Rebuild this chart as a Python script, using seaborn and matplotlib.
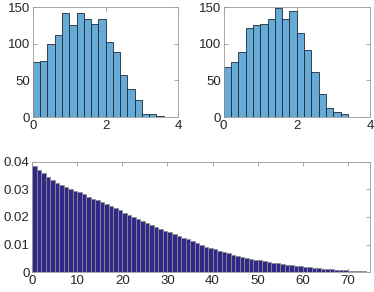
# plot.py
# Two histograms on top and a decaying bar series below, MATLAB-like look

import numpy as np
import pandas as pd
import seaborn as sns
import matplotlib
matplotlib.use("Agg")
import matplotlib.pyplot as plt

# Data
bin_width = 0.2
left_counts = [75, 76, 99, 112, 142, 126, 142, 134, 127, 134,
               103, 89, 58, 38, 23, 4, 4, 1.5]
right_counts = [68, 75, 89, 122, 126, 127, 134, 148, 134, 144,
                115, 92, 61, 32, 13, 7, 4]
decay_values = [0.0386, 0.0370, 0.0358, 0.0345, 0.0334, 0.0323, 0.0314, 0.0307,
                0.0301, 0.0295, 0.0289, 0.0282, 0.0273, 0.0266, 0.0260, 0.0253,
                0.0246, 0.0239, 0.0231, 0.0224, 0.0216, 0.0207, 0.0199, 0.0192,
                0.0184, 0.0177, 0.0170, 0.0163, 0.0157, 0.0151, 0.0145, 0.0137,
                0.0131, 0.0125, 0.0119, 0.0113, 0.0107, 0.0099, 0.0093, 0.0088,
                0.0083, 0.0078, 0.0073, 0.0069, 0.0064, 0.0060, 0.0057, 0.0053,
                0.0049, 0.0046, 0.0043, 0.0040, 0.0037, 0.0035, 0.0033, 0.0030,
                0.0028, 0.0025, 0.0024, 0.0022, 0.0020, 0.0018, 0.0017, 0.0016,
                0.0013, 0.0012, 0.0011, 0.0010, 0.0008, 0.0007, 0.0006, 0.0005,
                0.0004, 0.0004, 0.0002]

hist_color = "#66aad7"
bar_color = "#30298a"
frame_color = "#9a9a9a"
text_color = "#262626"

sns.set_style("white")
plt.rcParams["font.family"] = ["Liberation Sans", "DejaVu Sans"]
plt.rcParams["font.size"] = 9.5


def style_axes(ax):
    """Box on, inward ticks on all sides, gray frame."""
    for side in ax.spines.values():
        side.set_color(frame_color)
        side.set_linewidth(0.6)
    ax.tick_params(direction="in", length=3, width=0.6, color=frame_color,
                   labelcolor=text_color, top=True, right=True,
                   bottom=True, left=True, pad=2)
    ax.set_xlabel("")
    ax.set_ylabel("")


def draw_hist(ax, counts):
    """Histogram from pre-binned counts."""
    edges = [i * bin_width for i in range(len(counts) + 1)]
    df = pd.DataFrame({"center": [e + bin_width / 2 for e in edges[:-1]],
                       "count": counts})
    sns.histplot(data=df, x="center", weights="count", bins=edges, ax=ax,
                 color=hist_color, alpha=1, edgecolor="#1e2a33", linewidth=0.6)
    ax.set_xlim(0, 4)
    ax.set_ylim(0, 150)
    ax.set_xticks([0, 2, 4])
    ax.set_yticks([0, 50, 100, 150])
    style_axes(ax)


fig = plt.figure(figsize=(3.74, 2.92), dpi=100)

ax1 = fig.add_axes([0.0882, 0.599, 0.388, 0.377])
draw_hist(ax1, left_counts)

ax2 = fig.add_axes([0.598, 0.599, 0.391, 0.377])
draw_hist(ax2, right_counts)

# bottom: one bar per unit interval
ax3 = fig.add_axes([0.0864, 0.0675, 0.9036, 0.3787])
bars = pd.DataFrame({"x": [i + 0.5 for i in range(len(decay_values))],
                     "value": decay_values})
sns.histplot(data=bars, x="x", weights="value",
             bins=list(range(len(decay_values) + 1)),
             ax=ax3, color=bar_color, alpha=1, edgecolor="#8c8c8c", linewidth=0.6)
ax3.set_xlim(0, 75)
ax3.set_ylim(0, 0.04)
ax3.set_xticks(np.arange(0, 71, 10))
ax3.set_yticks([0, 0.01, 0.02, 0.03, 0.04])
ax3.set_yticklabels(["0", "0.01", "0.02", "0.03", "0.04"])
style_axes(ax3)

fig.savefig("out.png", dpi=100)
